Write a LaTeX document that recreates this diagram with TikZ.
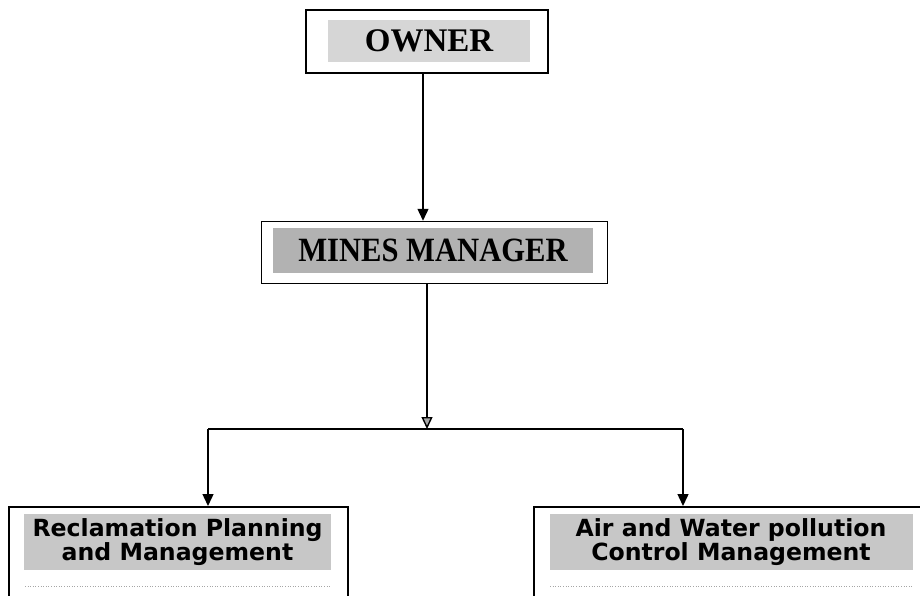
\documentclass[tikz,border=0pt]{standalone}
\usepackage{fontspec}
\setmainfont{Liberation Serif}
\newfontfamily\verd{DejaVu Sans}
\usetikzlibrary{arrows.meta,calc}
\begin{document}
\begin{tikzpicture}[x=1pt,y=-1pt,
  boxframe/.style={draw=black,line width=1.5pt,fill=white,inner sep=0pt},
  hlserif/.style={inner sep=0pt,font=\bfseries,text=black},
  hlsans/.style={fill=black!22,inner sep=0pt,align=center,font=\verd\bfseries\fontsize{23.6}{22}\selectfont,text=black},
  conn/.style={line width=1.4pt,draw=black},
  tip/.style={-{Triangle[length=12pt,width=11pt]}},
  tipgray/.style={-{Triangle[length=12pt,width=11pt,fill=black!35]}},
  faint/.style={draw=black!35,line width=0.6pt,dotted}]
\useasboundingbox (0,0) rectangle (920,596);
\clip (0,0) rectangle (920,596);

% boxes
\node[boxframe,minimum width=242,minimum height=63] (owner) at (427,41.5) {};
\node[hlserif,fill=black!16,minimum width=202,minimum height=42,font=\bfseries\fontsize{33}{36}\selectfont] (ownert) at (429,41) {OWNER};

\node[boxframe,minimum width=346,minimum height=62] (mm) at (434.5,252.5) {};
\node[hlserif,fill=black!30,minimum width=320,minimum height=45] (mmt) at (433,250.5) {\fontsize{34}{36}\selectfont\scalebox{0.9}[1]{MINES MANAGER}};

\node[boxframe,anchor=north west,minimum width=339,minimum height=120] (left) at (8,506) {};
\node[hlsans,minimum width=307,minimum height=56] (leftt) at (177.5,542) {Reclamation Planning\\and Management};

\node[boxframe,anchor=north west,minimum width=400,minimum height=120] (right) at (533,506) {};
\node[hlsans,minimum width=363,minimum height=56] (rightt) at (731,542) {Air and Water pollution\\Control Management};

% faint scan lines
\coordinate (fl1) at (25,586);
\coordinate (fl2) at (331,586);
\coordinate (fr1) at (550,586);
\coordinate (fr2) at (913,586);
\draw[faint] (fl1) -- (fl2);
\draw[faint] (fr1) -- (fr2);

% connectors
\coordinate (a) at (423,0);
\draw[conn,tip] (owner.south -| a) -- (mm.north -| a);
\coordinate (j) at (427,429);
\coordinate (jl) at (208,429);
\coordinate (jr) at (683,429);
\draw[conn,tipgray] (mm.south -| j) -- (j);
\draw[conn] (jl) -- (jr);
\draw[conn,tip] (jl) -- (jl |- left.north);
\draw[conn,tip] (jr) -- (jr |- right.north);
\end{tikzpicture}
\end{document}
